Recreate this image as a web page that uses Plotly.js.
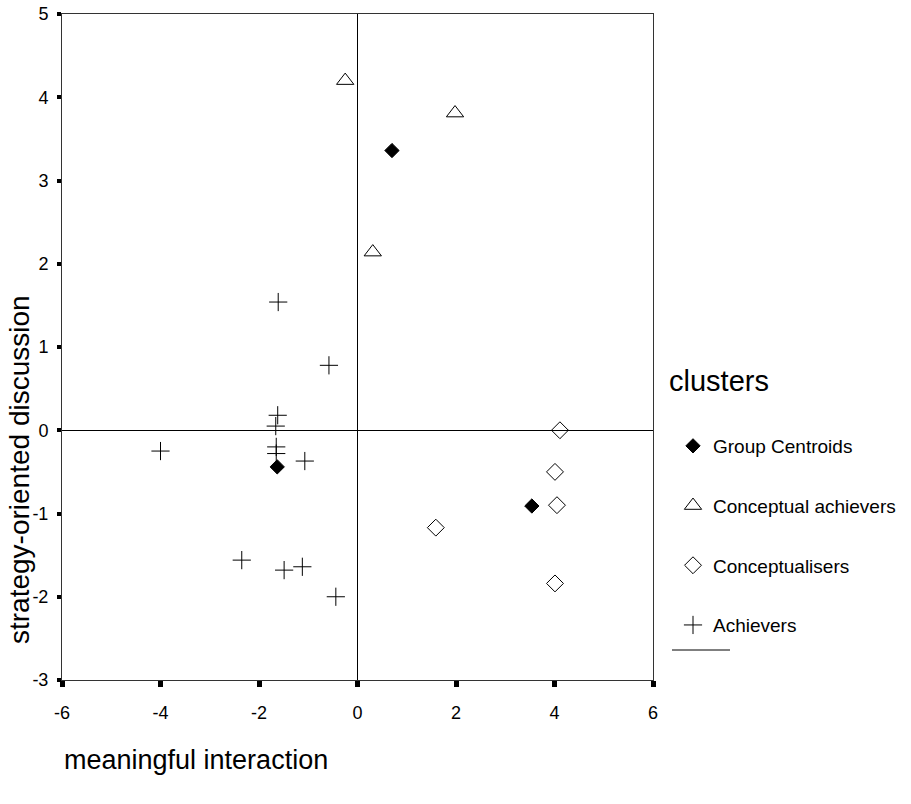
<!DOCTYPE html>
<html>
<head>
<meta charset="utf-8">
<script src="https://cdn.plot.ly/plotly-3.0.1.min.js"></script>
<style>html,body{margin:0;padding:0;background:#fff;}#chart{width:911px;height:804px;}</style>
</head>
<body>
<div id="chart"></div>
<script>
// Data
const centroidX = [0.70, 3.54, -1.63];
const centroidY = [3.36, -0.91, -0.44];

const achieversConcX = [-0.25, 1.98, 0.31];
const achieversConcY = [4.20, 3.81, 2.14];

const conceptualisersX = [4.11, 4.01, 4.05, 1.59, 4.01];
const conceptualisersY = [0.00, -0.50, -0.90, -1.17, -1.84];

const achieversX = [-1.61, -0.58, -1.62, -1.66, -1.65, -1.65, -1.07, -4.00, -2.35, -1.49, -1.12, -0.44];
const achieversY = [1.54, 0.78, 0.18, 0.05, -0.20, -0.28, -0.37, -0.25, -1.56, -1.68, -1.64, -2.00];

const xTicks = [-6, -4, -2, 0, 2, 4, 6];
const yTicks = [-3, -2, -1, 0, 1, 2, 3, 4, 5];

const FONT = 'Liberation Sans, Arial, sans-serif';

const traces = [
  {x: centroidX, y: centroidY, name: 'Group Centroids', legendgroup: 'a', mode: 'markers', type: 'scatter',
   marker: {symbol: 'diamond', size: 11, color: '#000', line: {color: '#000', width: 1}}},
  {x: achieversConcX, y: achieversConcY, name: 'Conceptual achievers', legendgroup: 'b', mode: 'markers', type: 'scatter',
   marker: {symbol: 'triangle-up-open', size: 15, color: '#000', line: {color: '#000', width: 1}}},
  {x: conceptualisersX, y: conceptualisersY, name: 'Conceptualisers', legendgroup: 'c', mode: 'markers', type: 'scatter',
   marker: {symbol: 'diamond-open', size: 13, color: '#000', line: {color: '#000', width: 1}}},
  {x: achieversX, y: achieversY, name: 'Achievers', legendgroup: 'd', mode: 'markers', type: 'scatter',
   marker: {symbol: 'cross-thin-open', size: 13, color: '#000', line: {color: '#000', width: 1}}}
];

const layout = {
  width: 911, height: 804,
  margin: {l: 62, r: 258, t: 14, b: 124, autoexpand: false},
  paper_bgcolor: '#fff', plot_bgcolor: '#fff',
  font: {family: FONT, color: '#000', size: 18},
  showlegend: true,
  legend: {
    x: (673 - 62) / 591, y: (680 - 427) / 666, xanchor: 'left', yanchor: 'top',
    font: {size: 19, family: FONT},
    traceorder: 'grouped', tracegroupgap: 32,
    bgcolor: 'rgba(0,0,0,0)', borderwidth: 0
  },
  xaxis: {
    range: [-6, 6], tickvals: xTicks, ticktext: xTicks.map(String),
    showgrid: false, zeroline: true, zerolinecolor: '#000', zerolinewidth: 1,
    showline: true, linecolor: '#333', linewidth: 1, mirror: true,
    ticks: 'outside', ticklen: 6, tickwidth: 5, tickcolor: '#000',
    ticklabelstandoff: 10, tickfont: {size: 18, family: FONT}
  },
  yaxis: {
    range: [-3, 5], tickvals: yTicks, ticktext: yTicks.map(String),
    showgrid: false, zeroline: true, zerolinecolor: '#000', zerolinewidth: 1,
    showline: true, linecolor: '#333', linewidth: 1, mirror: true,
    ticks: 'outside', ticklen: 4, tickwidth: 4, tickcolor: '#000',
    ticklabelstandoff: 5, tickfont: {size: 18, family: FONT}
  },
  annotations: [
    {text: 'meaningful interaction', xref: 'paper', yref: 'paper', x: 0, y: -(760 - 680) / 666,
     xanchor: 'left', yanchor: 'middle', showarrow: false, font: {size: 27, family: FONT}},
    {text: 'strategy-oriented discussion', xref: 'paper', yref: 'paper', x: (19 - 62) / 591, y: (680 - 470) / 666,
     xanchor: 'center', yanchor: 'middle', textangle: -90, showarrow: false, font: {size: 28, family: FONT}},
    {text: 'clusters', xref: 'paper', yref: 'paper', x: (667 - 62) / 591, y: (680 - 381) / 666,
     xanchor: 'left', yanchor: 'middle', showarrow: false, font: {size: 29, family: FONT}}
  ],
  shapes: [
    {type: 'line', xref: 'paper', yref: 'paper', x0: (672 - 62) / 591, x1: (730 - 62) / 591,
     y0: (680 - 650) / 666, y1: (680 - 650) / 666, line: {color: '#000', width: 1}}
  ]
};

Plotly.newPlot('chart', traces, layout, {displayModeBar: false, staticPlot: true});
</script>
</body>
</html>
